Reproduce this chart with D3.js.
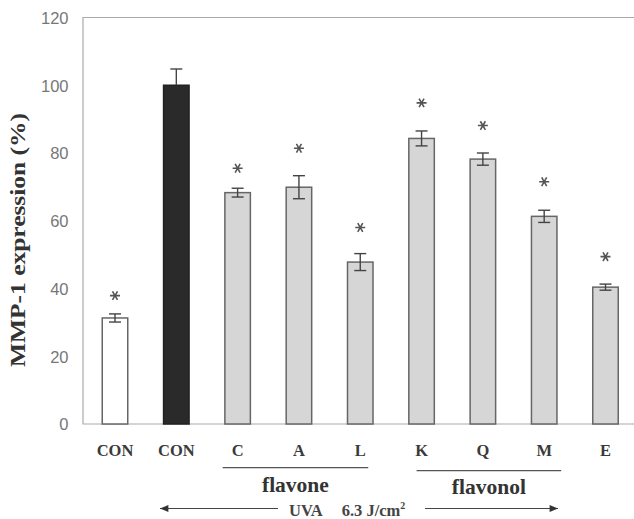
<!DOCTYPE html>
<html>
<head>
<meta charset="utf-8">
<script src="https://cdn.jsdelivr.net/npm/d3@7"></script>
<style>
  body { margin: 0; background: #fff; }
  svg { display: block; }
</style>
</head>
<body>
<svg id="chart" width="634" height="519"></svg>
<script>
// bar data
const groups = ["CON", "CON", "C", "A", "L", "K", "Q", "M", "E"];
const values = [31.3, 100, 68.3, 69.9, 47.8, 84.3, 78.2, 61.3, 40.4];
const errors = [1.2, 4.8, 1.3, 3.4, 2.5, 2.2, 1.8, 1.8, 0.9];
const kinds = ["control", "uva", "treat", "treat", "treat", "treat", "treat", "treat", "treat"];
// asterisk centres, in % units
const starAt = [37.9, null, 75.5, 81.4, 58.0, 94.8, 88.1, 71.5, 49.4];
const yTicks = [0, 20, 40, 60, 80, 100, 120];
const classNames = ["flavone", "flavonol"];
const classFrom = [2, 5];
const classTo = [4, 7];

const svg = d3.select("#chart");
const plotL = 83, plotR = 634, plotT = 17.5, plotB = 424;
const barW = 25.5;
const serif = "Liberation Serif, Times New Roman, serif";

const ids = groups.map((g, i) => i);
const x = d3.scalePoint().domain(ids).range([115, 605.5]);
const y = d3.scaleLinear().domain([0, 120]).range([plotB, plotT]);

const fills = { control: "#ffffff", uva: "#2a2a2a", treat: "#d6d6d6" };
const strokes = { control: "#666", uva: "#222", treat: "#666" };

// frame: left, top, bottom
svg.append("path")
    .attr("d", `M${plotR},${plotT}H${plotL}V${plotB}H${plotR}`)
    .attr("fill", "none")
    .attr("stroke", "#aaa")
    .attr("stroke-width", 1.2);

// y tick labels (no tick marks)
const yAxis = d3.axisLeft(y).tickValues(yTicks).tickSize(0).tickPadding(0);
const ya = svg.append("g").attr("transform", `translate(68.5,0)`).call(yAxis);
ya.select(".domain").remove();
ya.selectAll("text")
    .attr("font-family", "Liberation Sans, Arial, sans-serif")
    .attr("font-size", 16.5)
    .attr("fill", "#777")
    .attr("dy", "0.35em");

svg.append("text")
    .attr("transform", `translate(25,240) rotate(-90)`)
    .attr("text-anchor", "middle")
    .attr("font-family", serif)
    .attr("font-weight", "bold")
    .attr("font-size", 22)
    .attr("textLength", 254)
    .attr("lengthAdjust", "spacingAndGlyphs")
    .attr("fill", "#333")
    .text("MMP-1 expression (%)");

// bars
svg.append("g").selectAll("rect")
    .data(ids)
    .join("rect")
    .attr("x", i => x(i) - barW / 2)
    .attr("y", i => y(values[i]))
    .attr("width", barW)
    .attr("height", i => y(0) - y(values[i]))
    .attr("fill", i => fills[kinds[i]])
    .attr("stroke", i => strokes[kinds[i]])
    .attr("stroke-width", 1.5);

// error bars
const eb = svg.append("g").attr("stroke", "#444").attr("stroke-width", 1.4);
ids.forEach(i => {
    const cx = x(i);
    const hi = y(values[i] + errors[i]);
    const lo = kinds[i] === "uva" ? y(values[i]) : y(values[i] - errors[i]);
    eb.append("line").attr("x1", cx).attr("x2", cx).attr("y1", hi).attr("y2", lo);
    eb.append("line").attr("x1", cx - 6).attr("x2", cx + 6).attr("y1", hi).attr("y2", hi);
    if (kinds[i] !== "uva") {
        eb.append("line").attr("x1", cx - 6).attr("x2", cx + 6).attr("y1", lo).attr("y2", lo);
    }
});

// asterisks
const star = d3.symbol().type(d3.symbolAsterisk).size(70);
svg.append("g").selectAll("path")
    .data(ids.filter(i => starAt[i] !== null))
    .join("path")
    .attr("d", star)
    .attr("transform", i => `translate(${x(i)},${y(starAt[i])}) rotate(90)`)
    .attr("fill", "none")
    .attr("stroke", "#555")
    .attr("stroke-width", 1.6);

// category labels
svg.append("g").selectAll("text")
    .data(ids)
    .join("text")
    .attr("x", i => x(i))
    .attr("y", 456)
    .attr("text-anchor", "middle")
    .attr("font-family", serif)
    .attr("font-weight", "bold")
    .attr("font-size", 16.5)
    .attr("fill", "#3a3a3a")
    .text(i => groups[i]);

// class brackets (underline runs a little off-centre, as in the print)
const padL = [15, 5], padR = [8, 17], lineY = [467.7, 470.7], textY = [491.7, 494];
classNames.forEach((name, k) => {
    const x1 = x(classFrom[k]) - padL[k];
    const x2 = x(classTo[k]) + padR[k];
    svg.append("line")
        .attr("x1", x1).attr("x2", x2)
        .attr("y1", lineY[k]).attr("y2", lineY[k])
        .attr("stroke", "#555").attr("stroke-width", 1.3);
    svg.append("text")
        .attr("x", (x1 + x2) / 2)
        .attr("y", textY[k])
        .attr("text-anchor", "middle")
        .attr("font-family", serif)
        .attr("font-weight", "bold")
        .attr("font-size", 21.5)
        .attr("fill", "#333")
        .text(name);
});

// UVA arrow
svg.append("defs").append("marker")
    .attr("id", "head")
    .attr("viewBox", "0 -5 12 10")
    .attr("refX", 12).attr("refY", 0)
    .attr("markerWidth", 12).attr("markerHeight", 7)
    .attr("markerUnits", "userSpaceOnUse")
    .attr("orient", "auto-start-reverse")
    .append("path")
    .attr("d", "M0,-5L12,0L0,5Z")
    .attr("fill", "#333");

const ay = 508.5;
svg.append("line")
    .attr("x1", 160).attr("x2", 278).attr("y1", ay).attr("y2", ay)
    .attr("stroke", "#444").attr("stroke-width", 1.2)
    .attr("marker-start", "url(#head)");
svg.append("line")
    .attr("x1", 425).attr("x2", 558).attr("y1", ay).attr("y2", ay)
    .attr("stroke", "#444").attr("stroke-width", 1.2)
    .attr("marker-end", "url(#head)");

const uva = svg.append("text")
    .attr("x", 289)
    .attr("y", 515.5)
    .attr("font-family", serif)
    .attr("font-weight", "bold")
    .attr("font-size", 16.5)
    .attr("fill", "#444");
uva.append("tspan").text("UVA");
uva.append("tspan").attr("x", 341.7).text("6.3 J/cm");
uva.append("tspan").attr("dy", -7).attr("font-size", 10).text("2");
</script>
</body>
</html>
